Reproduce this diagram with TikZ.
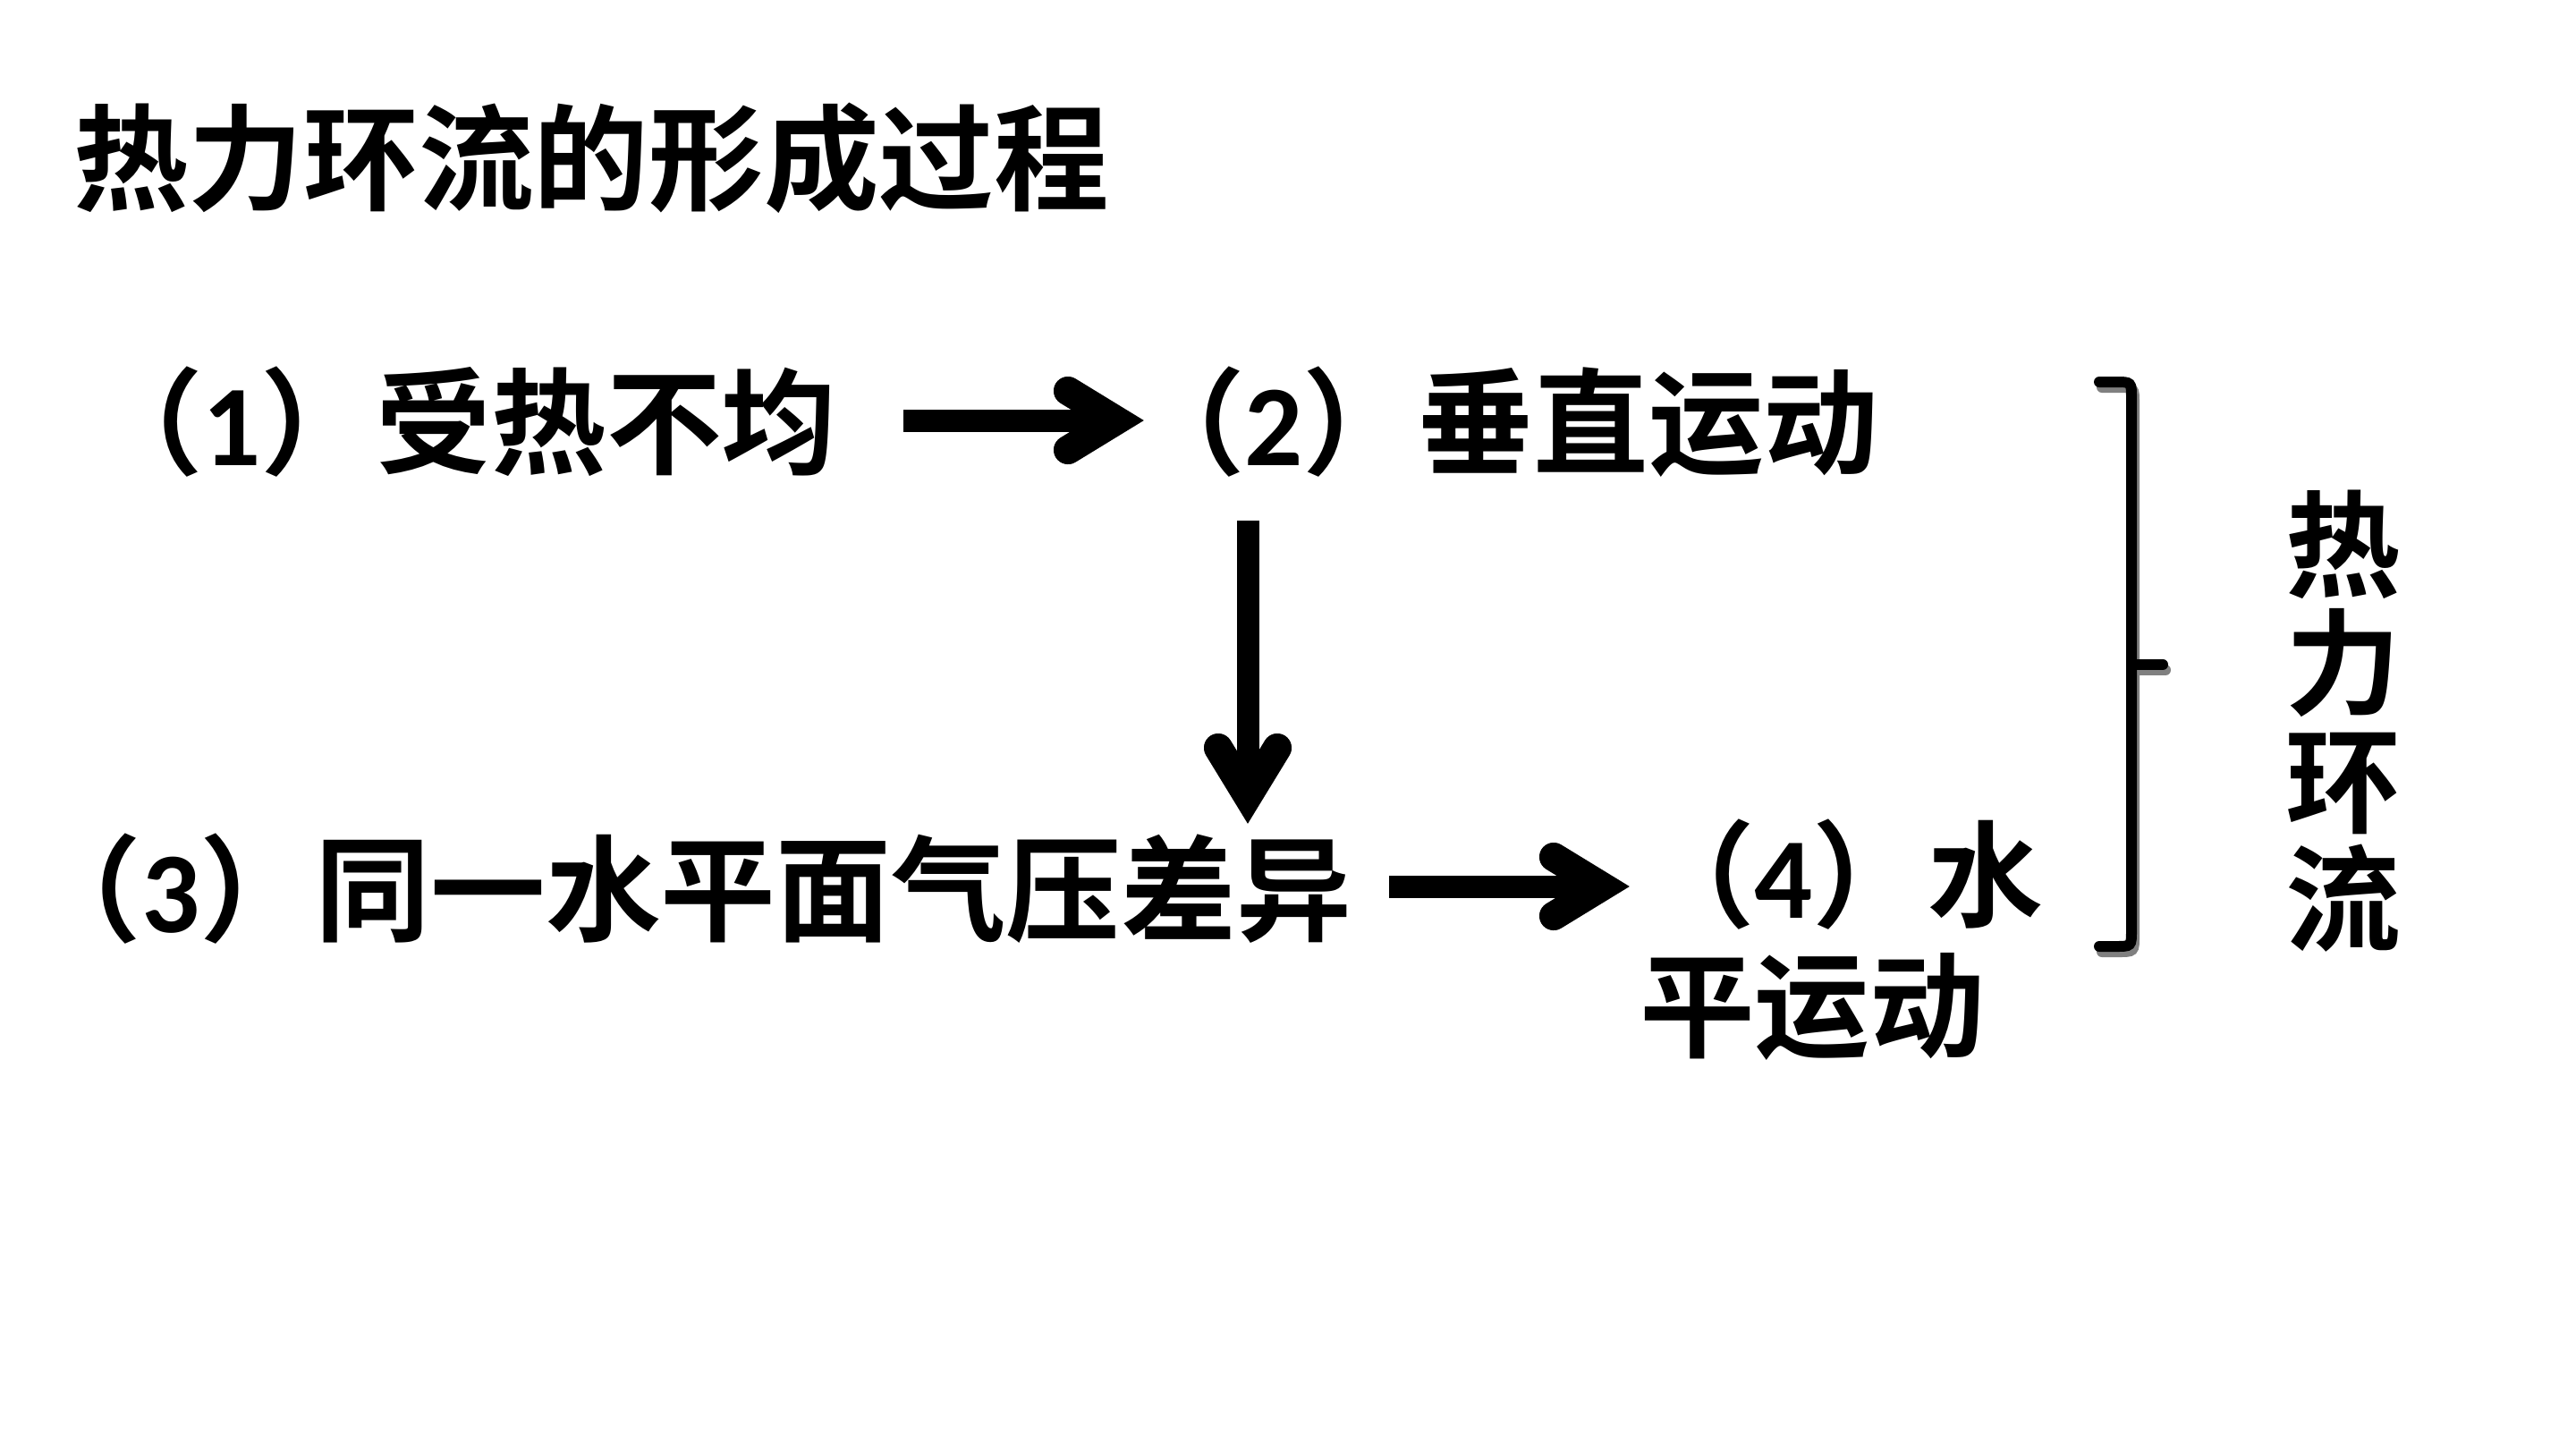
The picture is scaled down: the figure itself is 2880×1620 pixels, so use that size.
\documentclass[tikz,border=0pt]{standalone}
\usepackage{fontspec}
\usetikzlibrary{calc}
\setmainfont{Noto Sans CJK SC}[BoldFont={Noto Sans CJK SC Bold}]
\newfontfamily\digitfont{Carlito Bold}
\newcommand{\dg}[1]{{\digitfont #1}}
\definecolor{shadowgray}{RGB}{128,128,128}

% thick arrow pointing right: #1 start, #2 tip
\newcommand{\rightfat}[2]{%
  \foreach \c/\dx/\dy in {shadowgray/3/7, black/0/0}{%
    \begin{scope}[shift={(\dx,\dy)}]
      \draw[\c, line width=0.25cm] (#1) -- ($(#2)+(-40,0)$);
      \draw[\c, barb] ($(#2)+(-86,-33)$) -- ($(#2)+(-32,0)$) -- ($(#2)+(-86,33)$);
    \end{scope}}}
% thick arrow pointing down: #1 start, #2 tip
\newcommand{\downfat}[2]{%
  \foreach \c/\dx/\dy in {shadowgray/3/4, black/0/0}{%
    \begin{scope}[shift={(\dx,\dy)}]
      \draw[\c, line width=0.25cm] (#1) -- ($(#2)+(0,-40)$);
      \draw[\c, barb] ($(#2)+(-33,-86)$) -- ($(#2)+(0,-32)$) -- ($(#2)+(33,-86)$);
    \end{scope}}}

\begin{document}
\begin{tikzpicture}[x=0.01cm, y=-0.01cm,
  txt/.style={inner sep=0pt, outer sep=0pt, anchor=base west,
    font=\fontsize{36.6}{48}\selectfont\bfseries},
  barb/.style={line width=0.32cm, line cap=round, line join=miter, miter limit=10}]
\useasboundingbox (0,0) rectangle (2880,1620);
\fill[white] (0,0) rectangle (2880,1620);

% title
\node[txt] (title) at (82,225) {热力环流的形成过程};

% the four steps
\node[txt] (s1) at (98,520) {（\dg{1}）受热不均};
\node[txt] (s2) at (1263,520) {（\dg{2}）垂直运动};
\node[txt] (s3) at (30,1042) {（\dg{3}）同一水平面气压差异};
% two-line node: its base is the baseline of the last line
\node[txt, align=left] (s4) at (1833,1172) {（\dg{4}）水\\[-6.6pt]平运动};

% connectors
\coordinate (a1s) at (1010,470);
\coordinate (a1t) at (1280,470);
\coordinate (a2s) at (1395,582);
\coordinate (a2t) at (1395,922);
\coordinate (a3s) at (1553,991);
\coordinate (a3t) at (1823,991);
\rightfat{a1s}{a1t}
\downfat{a2s}{a2t}
\rightfat{a3s}{a3t}

% bracket grouping the steps
\foreach \c/\dx/\dy in {shadowgray/3/6, black/0/0}{
  \begin{scope}[shift={(\dx,\dy)}]
    \draw[\c, line width=0.12cm, line cap=round]
      (2347,427) -- (2365,427) .. controls (2383,427) .. (2383,445)
      -- (2383,1040) .. controls (2383,1058) .. (2365,1058) -- (2347,1058);
    \draw[\c, line width=0.12cm, line cap=round] (2383,743) -- (2418,743);
  \end{scope}}

% vertical label
\node[inner sep=0pt, align=center, font=\fontsize{36.6}{37.5}\selectfont\bfseries]
  (label) at (2620,806) {热\\力\\环\\流};
\end{tikzpicture}
\end{document}
